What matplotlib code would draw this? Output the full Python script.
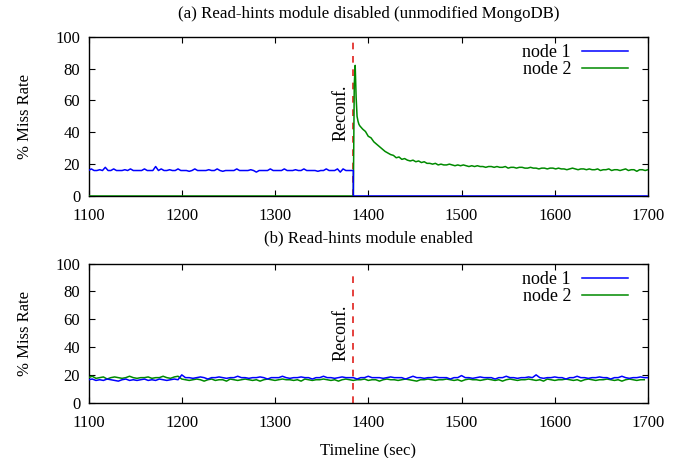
import numpy as np
import matplotlib
matplotlib.use("Agg")
import matplotlib.pyplot as plt

plt.rcParams['font.family'] = ['Liberation Serif', 'DejaVu Serif']
plt.rcParams['font.size'] = 12

# ---------------- data ----------------
reconf_time = 1384
x_ticks = [1100, 1200, 1300, 1400, 1500, 1600, 1700]
y_ticks = [0, 20, 40, 60, 80, 100]

# (a) module disabled
a_node1_start, a_node1_step = 1100, 3
a_node1_before = [16,17,16,16,16.5,16,18,16,16,17,16,16,16,16.5,16,17,16,16,16,16,17,16,16,16,18.5,
                  16,17,16,16,16.5,16,16,17,16,16,16,15.5,16,17,16,16,16,16,16.5,16,16,17,16,15.5,16,
                  16,16,16,17,16,16,16,16,16.5,16,15,16,16,16,16,17,16,16,16,16,17,16,16,16,16.5,
                  16,16,17,16,16,16,16,15.5,16,16,17,16,16,16,17,15,17,16,16,16]
a_node2_spike_t = [1384, 1385, 1386, 1387, 1388, 1389, 1390]
a_node2_spike_v = [0, 70, 82, 62, 50, 47, 45]
a_node2_decay_start, a_node2_decay_step = 1391, 3
a_node2_decay = [44,42,40.5,37.5,36.5,34,32.5,31,29.5,28,27,26,25.5,24,24.5,23,23.5,22.5,22,22.5,
                 21.5,22,21,21.5,20.5,20.5,20,20.5,19.5,20,19.5,19.5,20,19.5,19,19.5,19,19.5,19,18.5,
                 19,18.5,19,18.5,18.5,18,18.5,18.5,18,
                 18.5,18,18,18.5,17.5,18,18,17.5,18,18,17.5,17.5,18,17.5,17.5,17,17.5,17.5,17,17.5,
                 17.5,17,17.5,17,17,16.5,17,17.5,17,16.5,17,17,16.5,17,16.5,16.5,17,16,16.5,16.5,
                 17,16,16.5,16.5,16,16.5,17,16,16.5,16.5,15.5,16.5,16.5,16,16.5]

# (b) module enabled
b_start, b_switch, b_step = 1100, 1200, 4
b_node1_before = [16.5,17,16,16.5,16,17,16.5,16,15.5,16.5,17,16,16.5,16,16.5,17,16,16.5,16,17,16.5,16,16.5,17,16.5]
b_node1_after = [20,18,18,17.5,18,18.5,18,17,18,18,18.5,18,17.5,18,18,19,18,18,17.5,18,18,18.5,18,17,18,
                 18,18,19,18,17.5,18,18,18.5,18,18,17,18,18,19,18,18,17.5,18,18.5,18,18,18,17,18,18,
                 19,18,18,18,17.5,18,18.5,18,18,18,17,18,19,18,18,17.5,18,18,18.5,18,18,18,17,18,18,
                 19.5,18,18,17.5,18,18.5,18,18,18,17,18,18,19,18,18,17.5,18,18,18.5,18,20,18,17.5,18,18,
                 18.5,18,18,17,18,18,19,18,18,17.5,18,18,18.5,18,18,17,18,18,19,18,17.5,18,18,18.5,18,18,19]
b_node2_before = [18,19,17.5,18,18.5,17,18,18.5,18,17.5,18,19,18,17.5,18,18,18.5,17.5,18,18,19,18,17.5,18.5,19]
b_node2_after = [17,16.5,16,16.5,17,16.5,15.5,16.5,17,16,16.5,16.5,15.5,17,16.5,16,16.5,17,16.5,16,16.5,15.5,16.5,17,16.5,
                 16,16.5,17,16.5,16.5,16,16.5,15.5,17,16.5,16,16.5,16.5,17,16.5,16,16.5,15.5,16.5,17,16.5,16,16.5,16.5,17,
                 16,16.5,16.5,15.5,16.5,17,16.5,16.5,16,16.5,17,16.5,16,15.5,16.5,16.5,17,16.5,16,16.5,16.5,17,16.5,16,16.5,
                 15.5,16.5,17,16.5,16.5,16,16.5,17,16.5,16,16.5,15.5,16.5,17,16.5,16,16.5,16.5,17,16.5,16,16.5,15.5,17,16.5,
                 16,16.5,16.5,17,16.5,16,16.5,15.5,16.5,17,16.5,16,16.5,16.5,17,16.5,16,16.5,15.5,16.5,17,16.5,16,16.5,16.5]

# ---------------- build series ----------------
a_t1 = a_node1_start + a_node1_step * np.arange(len(a_node1_before))
a_n1_t = np.concatenate([a_t1, [reconf_time, reconf_time, 1700]])
a_n1_v = np.concatenate([a_node1_before, [16, 0, 0]])

a_td = a_node2_decay_start + a_node2_decay_step * np.arange(len(a_node2_decay))
a_n2_t = np.concatenate([[1100], a_node2_spike_t, a_td])
a_n2_v = np.concatenate([[0], a_node2_spike_v, a_node2_decay])

b_tb = b_start + b_step * np.arange(len(b_node1_before))
b_ta = b_switch + b_step * np.arange(len(b_node1_after))
b_n1_t = np.concatenate([b_tb, b_ta])
b_n1_v = np.concatenate([b_node1_before, b_node1_after])
b_tb2 = b_start + b_step * np.arange(len(b_node2_before))
b_ta2 = b_switch + b_step * np.arange(len(b_node2_after))
b_n2_t = np.concatenate([b_tb2, b_ta2])
b_n2_v = np.concatenate([b_node2_before, b_node2_after])

# ---------------- plot ----------------
W, H = 685, 458
fig = plt.figure(figsize=(W / 100, H / 100), dpi=100)

def px_axes(l, t, r, b):
    return fig.add_axes([l / W, 1 - b / H, (r - l) / W, (b - t) / H])

ax1 = px_axes(88.5, 36.7, 648, 196)
ax2 = px_axes(88.5, 263.5, 648, 402.7)

blue = '#0000ff'
green = '#008a00'
red = '#e0201c'

ax1.plot(a_n2_t, a_n2_v, color=green, lw=1.1, label='node 2', zorder=3)
ax1.plot(a_n1_t, a_n1_v, color=blue, lw=1.1, label='node 1', zorder=3)
ax2.plot(b_n2_t, b_n2_v, color=green, lw=1.1, label='node 2', zorder=3)
ax2.plot(b_n1_t, b_n1_v, color=blue, lw=1.1, label='node 1', zorder=3)

ax1.axvline(reconf_time, color=red, lw=1.2, ls=(0, (4, 4)), zorder=2)
ax2.axvline(reconf_time, color=red, lw=1.2, ls=(0, (4, 4)), ymax=0.95, zorder=2)

ax1.text(reconf_time - 4, 52, 'Reconf.', rotation=90, ha='right', va='center', fontsize=13)
ax2.text(reconf_time - 4, 50, 'Reconf.', rotation=90, ha='right', va='center', fontsize=13)

for ax in (ax1, ax2):
    ax.set_xlim(1100, 1700)
    ax.set_ylim(0, 100)
    ax.set_xticks(x_ticks)
    ax.set_yticks(y_ticks)
    ax.tick_params(direction='in', top=True, right=True, length=4.5, width=0.8, labelsize=12)
    ax.tick_params(axis='x', pad=9)
    ax.tick_params(axis='y', pad=6)
    ax.set_ylabel('% Miss Rate', fontsize=12, labelpad=16)
    for s in ax.spines.values():
        s.set_linewidth(1.0)
    h, l = ax.get_legend_handles_labels()
    order = [l.index('node 1'), l.index('node 2')]
    ax.legend([h[i] for i in order], [l[i] for i in order], loc='upper right', frameon=False,
              markerfirst=False, handlelength=2.55, fontsize=13, borderaxespad=0.0,
              labelspacing=0.0, handletextpad=0.6, bbox_to_anchor=(0.977, 0.997))

ax2.set_xlabel('Timeline (sec)', fontsize=12, labelpad=8)

cx = (88.5 + 648) / 2 / W
fig.text(cx, 1 - 14.5 / H, '(a) Read-hints module disabled (unmodified MongoDB)', ha='center', va='center', fontsize=12.2)
fig.text(cx, 1 - 238.5 / H, '(b) Read-hints module enabled', ha='center', va='center', fontsize=12.2)

fig.savefig('out.png', dpi=100)
